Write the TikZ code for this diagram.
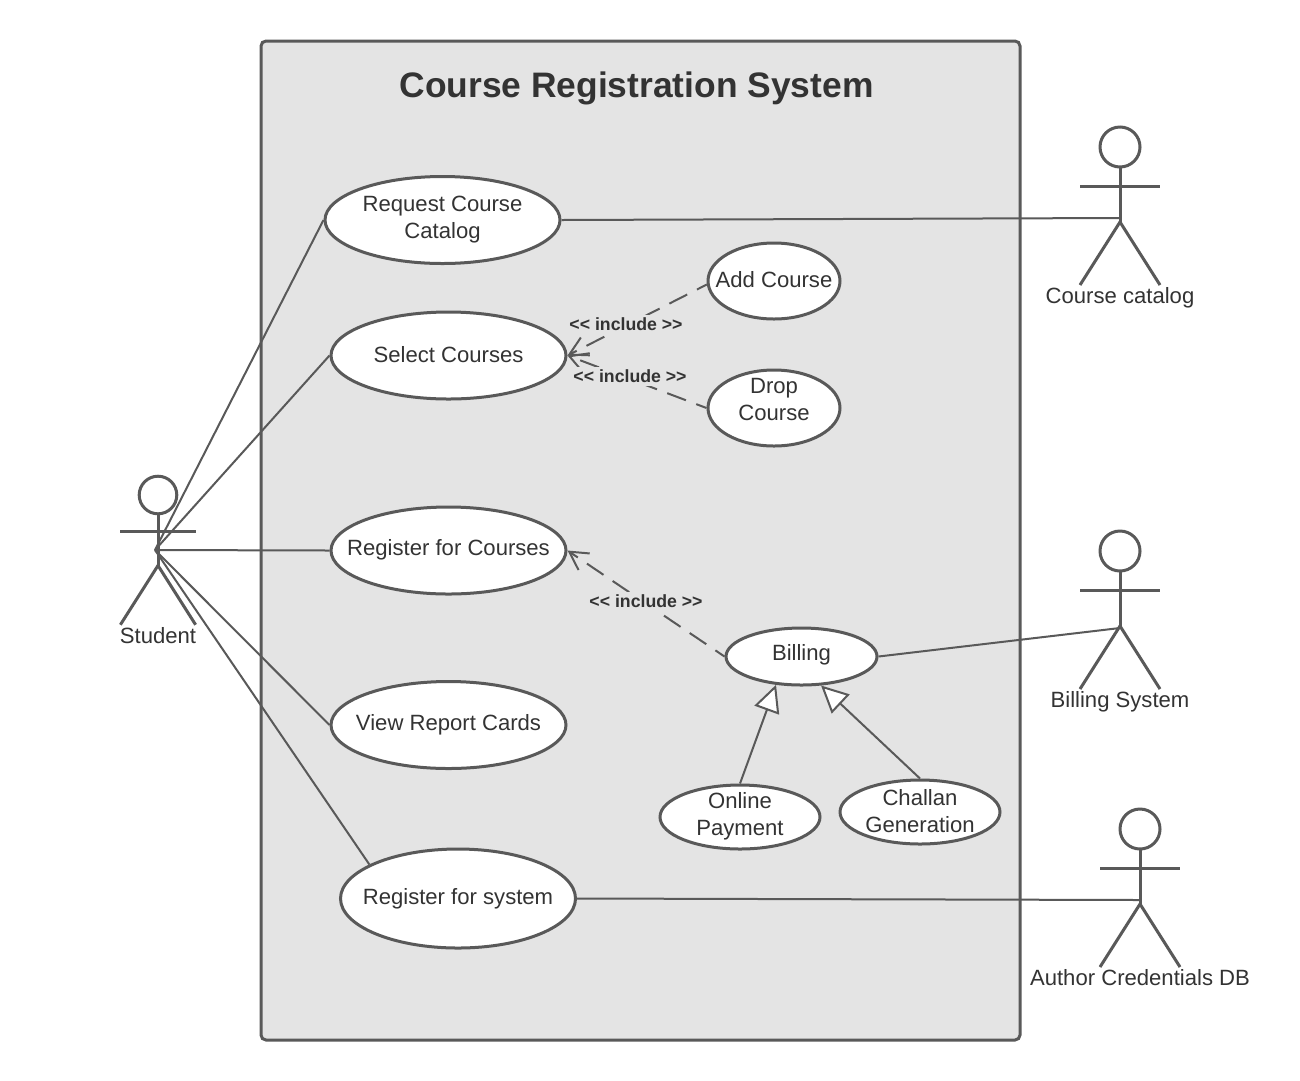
\documentclass[tikz,border=0pt]{standalone}
\usepackage{fontspec}
\setmainfont{Liberation Sans}
\usetikzlibrary{shapes.geometric,arrows.meta}
\definecolor{linec}{HTML}{595959}
\definecolor{textc}{HTML}{333333}
\definecolor{sysc}{HTML}{E4E4E4}
\tikzset{
  uc/.style={ellipse,draw=linec,fill=white,line width=3pt,inner sep=0pt},
  uctext/.style={text=textc,align=center,font=\fontsize{22.1}{27}\selectfont,inner sep=0pt},
  actortext/.style={text=textc,font=\fontsize{22.1}{27}\selectfont,inner sep=0pt},
  conn/.style={draw=linec,line width=2pt},
  incl/.style={draw=linec,line width=2pt,dash pattern=on 20pt off 11pt,dash phase=9pt,-{Straight Barb[length=18pt,width=20pt,line width=2pt]}},
  gen/.style={draw=linec,line width=2pt,-{Triangle[open,fill=white,length=27pt,width=26pt,line width=2pt]}},
  incltext/.style={fill=sysc,text=textc,font=\bfseries\fontsize{17.7}{20}\selectfont,inner xsep=1pt,inner ysep=3pt},
  actor/.pic={
    \draw[draw=linec,line width=3pt] (0,0) circle (20);
    \draw[draw=linec,line width=3pt] (0,20) -- (0,75);
    \draw[draw=linec,line width=3pt] (-40,39) -- (40,39);
    \draw[draw=linec,line width=3pt] (-40,138) -- (0,75) -- (40,138);
  }
}
\begin{document}
\begin{tikzpicture}[x=1pt,y=-1pt]
\useasboundingbox (0,0) rectangle (1300,1080);
\fill[white] (0,0) rectangle (1300,1080);
\node[draw=linec,fill=sysc,line width=3pt,rounded corners=5pt,minimum width=759pt,minimum height=999pt,inner sep=0pt] (sys) at (640.5,540.5) {};
\node[text=textc,font=\bfseries\fontsize{35.4}{40}\selectfont,inner sep=0pt] (title) at (636.5,88) {Course Registration System};

\pic[scale=0.94] at (158,495) {actor};
\pic at (1120,147) {actor};
\pic at (1120,551) {actor};
\pic at (1140,829) {actor};
\coordinate (studenthub) at (155,550);
\coordinate (cataloghub) at (1120,218);
\coordinate (billinghub) at (1120,628);
\coordinate (authorhub) at (1140,900);
\node[actortext] (studentlabel) at (158,636) {Student};
\node[actortext] (cataloglabel) at (1120,298) {Course catalog};
\node[actortext] (billinglabel) at (1120,702) {Billing System};
\node[actortext] (authorlabel) at (1140,978) {Author Credentials DB};

\node[uc,minimum width=235pt,minimum height=87pt,label={[uctext]center:Request Course\\Catalog}] (request) at (442.5,220) {};
\node[uc,minimum width=235pt,minimum height=87pt,label={[uctext,yshift=0.5pt]center:Select Courses}] (select) at (448.5,355.5) {};
\node[uc,minimum width=235pt,minimum height=87pt,label={[uctext,yshift=0.5pt]center:Register for Courses}] (courses) at (448.5,550.5) {};
\node[uc,minimum width=235pt,minimum height=87pt,label={[uctext,yshift=0.5pt]center:View Report Cards}] (view) at (448.5,725) {};
\node[uc,minimum width=235pt,minimum height=99pt,label={[uctext]center:Register for system}] (regsys) at (458,898.5) {};
\node[uc,minimum width=132pt,minimum height=76pt,label={[uctext,yshift=1pt]center:Add Course}] (add) at (774,281) {};
\node[uc,minimum width=132pt,minimum height=76pt,label={[uctext,yshift=8.5pt]center:Drop\\Course}] (drop) at (774,408) {};
\node[uc,minimum width=151pt,minimum height=57pt,label={[uctext,yshift=1.5pt]center:Billing}] (billing) at (801.5,656.5) {};
\node[uc,minimum width=160pt,minimum height=64pt,label={[uctext,yshift=1pt]center:Online\\Payment}] (online) at (740,817) {};
\node[uc,minimum width=160pt,minimum height=64pt,label={[uctext,yshift=1pt]center:Challan\\Generation}] (challan) at (920,812) {};

\draw[conn] (studenthub) -- (request.west);
\draw[conn] (studenthub) -- (select.west);
\draw[conn] (studenthub) -- (courses.west);
\draw[conn] (studenthub) -- (view.west);
\draw[conn] (studenthub) -- (regsys.159);
\draw[conn] (request.east) -- (cataloghub);
\draw[conn] (billing.east) -- (billinghub);
\draw[conn] (regsys.east) -- (authorhub);

\draw[incl] (add.183) -- (select.east);
\draw[incl] (drop.west) -- (select.east);
\draw[incl] (billing.west) -- (courses.east);
\draw[gen] (online.north) -- (billing.228);
\draw[gen] (challan.north) -- (billing.304);

\node[incltext] (incla) at (626,324) {{<}{<} include {>}{>}};
\node[incltext] (inclb) at (630,376) {{<}{<} include {>}{>}};
\node[incltext] (inclc) at (646,601) {{<}{<} include {>}{>}};
\end{tikzpicture}
\end{document}
